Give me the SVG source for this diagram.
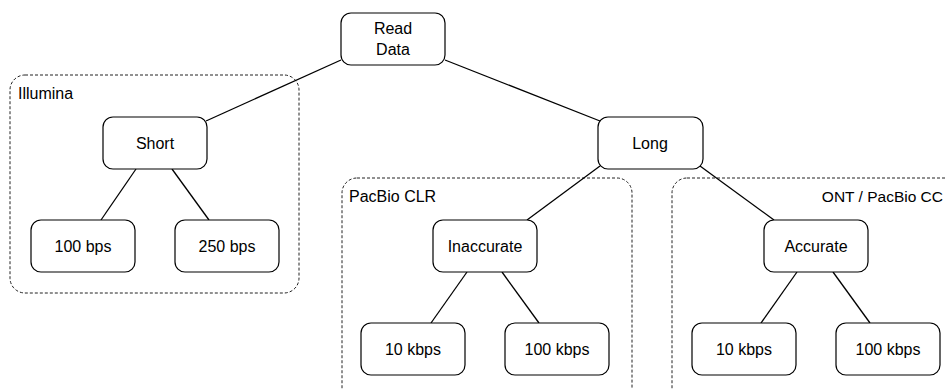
<svg xmlns="http://www.w3.org/2000/svg" width="945" height="389" viewBox="0 0 945 389">
<style>
.bg{fill:#fff}
.node rect{fill:#fff;stroke:#000;stroke-width:1.2}
.grp rect{fill:none;stroke:#222;stroke-width:1;stroke-dasharray:3,2}
text{font-family:"Liberation Sans",Arial,sans-serif;font-size:16px;fill:#000}
.c{text-anchor:middle}
#connectors line{stroke:#000;stroke-width:1.3}
</style>
<rect class="bg" x="0" y="0" width="945" height="389"/>
<g id="group-illumina" class="grp"><rect x="10" y="75" width="289" height="218" rx="15"/><text x="18" y="99">Illumina</text></g>
<g id="group-pacbio-clr" class="grp"><rect x="342" y="178" width="290" height="230" rx="15"/><text x="349" y="202">PacBio CLR</text></g>
<g id="group-ont" class="grp"><rect x="672" y="178" width="300" height="230" rx="15"/><text x="943" y="202" text-anchor="end" style="font-size:15.5px">ONT / PacBio CC</text></g>
<g id="connectors">
<line x1="341" y1="60" x2="206" y2="121"/>
<line x1="445" y1="60" x2="600" y2="121"/>
<line x1="136" y1="169" x2="101" y2="220"/>
<line x1="172" y1="169" x2="209" y2="220"/>
<line x1="600" y1="166" x2="527" y2="220"/>
<line x1="700" y1="166" x2="774" y2="220"/>
<line x1="467" y1="272" x2="431" y2="323"/>
<line x1="502" y1="272" x2="539" y2="323"/>
<line x1="797" y1="272" x2="761" y2="323"/>
<line x1="833" y1="272" x2="870" y2="323"/>
</g>
<g id="read-data" class="node"><rect x="341" y="13" width="104" height="52" rx="10"/><text class="c" x="393" y="34">Read</text><text class="c" x="393" y="55">Data</text></g>
<g id="short" class="node"><rect x="103" y="117" width="104" height="52" rx="10"/><text class="c" x="155" y="149">Short</text></g>
<g id="long" class="node"><rect x="598" y="117" width="105" height="52" rx="10"/><text class="c" x="650" y="149">Long</text></g>
<g id="bps100" class="node"><rect x="31" y="220" width="104" height="52" rx="10"/><text class="c" x="83" y="252">100 bps</text></g>
<g id="bps250" class="node"><rect x="175" y="220" width="104" height="52" rx="10"/><text class="c" x="227" y="252">250 bps</text></g>
<g id="inaccurate" class="node"><rect x="433" y="220" width="104" height="52" rx="10"/><text class="c" x="485" y="252">Inaccurate</text></g>
<g id="accurate" class="node"><rect x="764" y="220" width="104" height="52" rx="10"/><text class="c" x="816" y="252">Accurate</text></g>
<g id="clr-10k" class="node"><rect x="361" y="323" width="104" height="52" rx="10"/><text class="c" x="413" y="355">10 kbps</text></g>
<g id="clr-100k" class="node"><rect x="505" y="323" width="104" height="52" rx="10"/><text class="c" x="557" y="355">100 kbps</text></g>
<g id="ont-10k" class="node"><rect x="692" y="323" width="104" height="52" rx="10"/><text class="c" x="744" y="355">10 kbps</text></g>
<g id="ont-100k" class="node"><rect x="836" y="323" width="104" height="52" rx="10"/><text class="c" x="888" y="355">100 kbps</text></g>
</svg>
